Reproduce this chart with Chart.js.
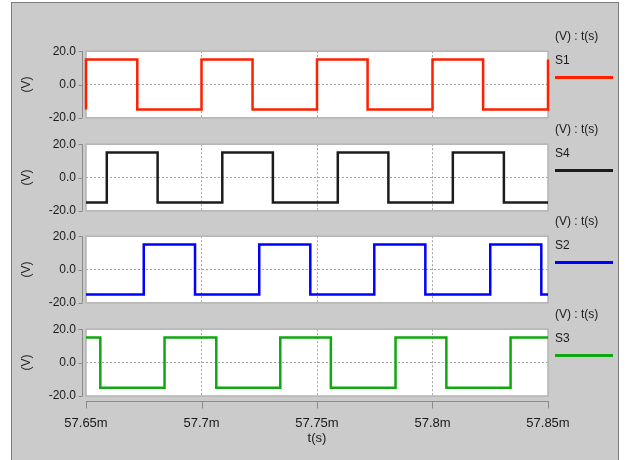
<!DOCTYPE html>
<html>
<head>
<meta charset="utf-8">
<script src="https://cdn.jsdelivr.net/npm/chart.js@4.4.1/dist/chart.umd.min.js"></script>
<style>
  html, body { margin: 0; padding: 0; background: #ffffff; width: 628px; height: 460px; overflow: hidden;
    font-family: "Liberation Sans", Arial, sans-serif; }
  #panel { position: absolute; left: 11px; top: 2px; width: 608px; height: 470px;
    background: #cbcbcb; border: 1px solid #7c7c7c; box-sizing: border-box; }
  .plot { position: absolute; left: 0; width: 628px; }
  .legTitle, .legName { position: absolute; left: 555px; font-size: 12px; line-height: 14px; color: #1a1a1a; white-space: nowrap; }
  .legLine { position: absolute; left: 555px; width: 58px; height: 2.5px; }
</style>
</head>
<body>
<div id="panel"></div>
<div id="stage"></div>
<script>
// Time axis (ms) and voltage axis limits
const timeMin = 57.65;
const timeMax = 57.85;
const timeStep = 0.05;
const voltMin = -20;
const voltMax = 20;
const voltStep = 20;

// Gate signals: switching instants (ms) and the level (V) reached at each instant
const s1Time = [57.65, 57.65, 57.6722, 57.70, 57.7221, 57.75, 57.7719, 57.80, 57.8219, 57.85];
const s1Volt = [-15, 15, -15, 15, -15, 15, -15, 15, -15, 15];

const s4Time = [57.65, 57.659, 57.681, 57.709, 57.7309, 57.759, 57.7809, 57.8088, 57.8309, 57.85];
const s4Volt = [-15, 15, -15, 15, -15, 15, -15, 15, -15, -15];

const s2Time = [57.65, 57.675, 57.6972, 57.725, 57.7471, 57.7748, 57.7969, 57.825, 57.8471, 57.85];
const s2Volt = [-15, 15, -15, 15, -15, 15, -15, 15, -15, -15];

const s3Time = [57.65, 57.6562, 57.684, 57.7064, 57.7341, 57.756, 57.784, 57.806, 57.8338, 57.85];
const s3Volt = [15, -15, 15, -15, 15, -15, 15, -15, 15, 15];

const seriesNames = ['S1', 'S4', 'S2', 'S3'];
const seriesTimes = [s1Time, s4Time, s2Time, s3Time];
const seriesVolts = [s1Volt, s4Volt, s2Volt, s3Volt];

const yUnit = '(V)';
const xUnit = 't(s)';
const legendHeading = '(V) : t(s)';

// Styling
const lineColors = ['#ff2000', '#1c1c1c', '#0000ff', '#10a810'];
const textColor = '#1a1a1a';
const gridColor = '#a4a4a4';
const axisColor = '#8a8a8a';
const frameColor = '#b4b4b4';
const fontFamily = '"Liberation Sans", Arial, sans-serif';

// Row layout (plot box tops in px)
const rowTops = [51, 144, 236, 329];
const boxH = 67;
const xAxisH = 64;

// Plot frame: white box, light border, axes drawn slightly detached from the box
const framePlugin = {
  id: 'frame',
  beforeDraw(chart) {
    const { ctx, chartArea: a } = chart;
    ctx.save();
    ctx.fillStyle = '#ffffff';
    ctx.fillRect(a.left, a.top, a.width, a.height);
    ctx.restore();
  },
  beforeDatasetsDraw(chart) {
    const { ctx, chartArea: a, scales } = chart;
    ctx.save();
    ctx.strokeStyle = frameColor;
    ctx.lineWidth = 1.5;
    ctx.strokeRect(a.left, a.top, a.width, a.height);

    ctx.strokeStyle = axisColor;
    ctx.lineWidth = 1;
    // y axis line and tick stubs
    const ax = Math.round(a.left - 4) + 0.5;
    ctx.beginPath();
    ctx.moveTo(ax, a.top);
    ctx.lineTo(ax, a.bottom);
    scales.y.ticks.forEach(t => {
      const py = Math.round(scales.y.getPixelForValue(t.value)) + 0.5;
      ctx.moveTo(ax - 4, py);
      ctx.lineTo(ax, py);
    });
    ctx.stroke();
    // x axis line and tick stubs (bottom row only)
    if (chart.options.scales.x.ticks.display) {
      const ay = Math.round(a.bottom + 5) + 0.5;
      ctx.beginPath();
      ctx.moveTo(a.left, ay);
      ctx.lineTo(a.right + 1, ay);
      scales.x.ticks.forEach(t => {
        const px = Math.round(scales.x.getPixelForValue(t.value)) + 0.5;
        ctx.moveTo(px, ay);
        ctx.lineTo(px, ay + 7);
      });
      ctx.stroke();
    }
    ctx.restore();
  }
};

function buildConfig(i, last) {
  const points = seriesTimes[i].map((t, k) => ({ x: t, y: seriesVolts[i][k] }));
  return {
    type: 'line',
    data: {
      datasets: [{
        label: seriesNames[i],
        data: points,
        borderColor: lineColors[i],
        borderWidth: 2.5,
        stepped: true,
        pointRadius: 0,
        fill: false,
        clip: false
      }]
    },
    options: {
      responsive: false,
      maintainAspectRatio: false,
      animation: false,
      events: [],
      layout: { padding: { left: 0, right: 628 - 548, top: 0, bottom: 0 } },
      plugins: { legend: { display: false }, tooltip: { enabled: false } },
      scales: {
        x: {
          type: 'linear',
          min: timeMin,
          max: timeMax,
          afterFit: s => { s.height = last ? xAxisH : 0; },
          ticks: {
            display: last,
            stepSize: timeStep,
            autoSkip: false,
            maxRotation: 0,
            padding: 20,
            color: textColor,
            font: { family: fontFamily, size: 13 },
            callback: v => (+v.toFixed(3)) + 'm'
          },
          grid: {
            drawTicks: false,
            lineWidth: 1,
            color: c => {
              const v = c.tick ? c.tick.value : null;
              return (v === null || Math.abs(v - timeMin) < 1e-6 || Math.abs(v - timeMax) < 1e-6) ? 'transparent' : gridColor;
            }
          },
          border: { display: false, dash: [2, 2] },
          title: {
            display: last,
            text: xUnit,
            color: textColor,
            font: { family: fontFamily, size: 13 },
            padding: { top: 0, bottom: 14 }
          }
        },
        y: {
          min: voltMin,
          max: voltMax,
          afterFit: s => { s.width = 86; },
          ticks: {
            stepSize: voltStep,
            padding: 10,
            color: textColor,
            font: { family: fontFamily, size: 12 },
            callback: v => v.toFixed(1)
          },
          grid: {
            drawTicks: false,
            lineWidth: 1,
            color: c => (c.tick && c.tick.value === 0) ? gridColor : 'transparent'
          },
          border: { display: false, dash: [2, 2] },
          title: {
            display: true,
            text: yUnit,
            color: textColor,
            font: { family: fontFamily, size: 12 },
            padding: { top: 19, bottom: 0 }
          }
        }
      }
    },
    plugins: [framePlugin]
  };
}

const stage = document.getElementById('stage');

seriesNames.forEach((name, i) => {
  const last = i === seriesNames.length - 1;

  const canvas = document.createElement('canvas');
  canvas.className = 'plot';
  stage.appendChild(canvas);

  // First pass measures how much room the labels take, second pass sizes the canvas
  let height = 120;
  canvas.width = 628; canvas.height = height; canvas.style.height = height + 'px';
  let chart = new Chart(canvas.getContext('2d'), buildConfig(i, last));
  const a = chart.chartArea;
  const above = a.top;
  const below = height - a.bottom;
  chart.destroy();

  height = Math.round(above + boxH + below);
  canvas.width = 628; canvas.height = height; canvas.style.height = height + 'px';
  chart = new Chart(canvas.getContext('2d'), buildConfig(i, last));
  canvas.style.top = (rowTops[i] - chart.chartArea.top) + 'px';

  // Legend block to the right of each plot
  const head = document.createElement('div');
  head.className = 'legTitle';
  head.style.top = (rowTops[i] - 22) + 'px';
  head.textContent = legendHeading;
  stage.appendChild(head);

  const lab = document.createElement('div');
  lab.className = 'legName';
  lab.style.top = (rowTops[i] + 2) + 'px';
  lab.textContent = name;
  stage.appendChild(lab);

  const ln = document.createElement('div');
  ln.className = 'legLine';
  ln.style.top = (rowTops[i] + 25) + 'px';
  ln.style.background = lineColors[i];
  stage.appendChild(ln);
});
</script>
</body>
</html>
